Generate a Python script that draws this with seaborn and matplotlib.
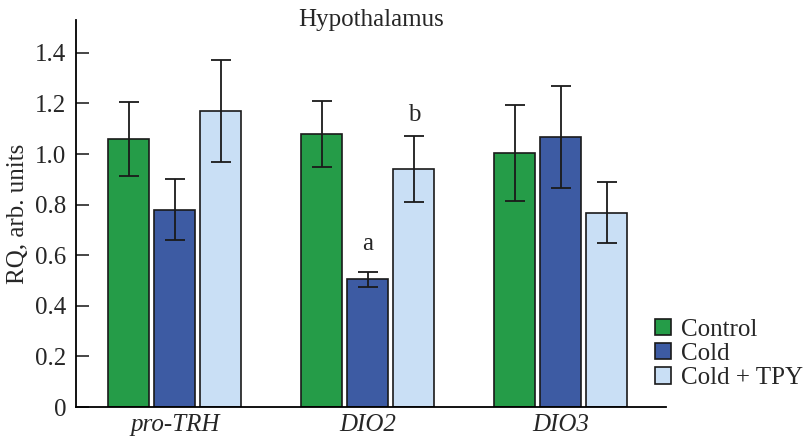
import matplotlib
matplotlib.use("Agg")
import matplotlib.pyplot as plt
import seaborn as sns
import pandas as pd
from matplotlib.patches import Patch

genes = ['pro-TRH', 'DIO2', 'DIO3']
groups = ['Control', 'Cold', 'Cold + TPY']
control_mean = [1.06, 1.08, 1.005]
control_err = [0.145, 0.13, 0.19]
cold_mean = [0.78, 0.505, 1.067]
cold_err = [0.12, 0.03, 0.20]
tpy_mean = [1.17, 0.94, 0.768]
tpy_err = [0.20, 0.13, 0.12]
colors = ['#259c48', '#3d5ba3', '#c9dff5']

means = [control_mean, cold_mean, tpy_mean]
errs = [control_err, cold_err, tpy_err]
rows = []
for g, m in zip(groups, means):
    for gene, v in zip(genes, m):
        rows.append({'gene': gene, 'group': g, 'value': v})
df = pd.DataFrame(rows)

sns.set_style("ticks")
plt.rcParams['font.family'] = ['Liberation Serif', 'DejaVu Serif']
plt.rcParams['font.size'] = 18

fig = plt.figure(figsize=(8.08, 4.42), dpi=100)
ax = fig.add_axes([0.094, 0.079, 0.73, 0.876])

sns.barplot(data=df, x='gene', y='value', hue='group', order=genes,
            hue_order=groups, palette=colors, width=0.715, gap=0.107,
            edgecolor='#1a1a1a', linewidth=1.2, saturation=1, errorbar=None,
            legend=False, ax=ax)

for cont, err in zip(ax.containers, errs):
    xs = [p.get_x() + p.get_width() / 2 for p in cont]
    hs = [p.get_height() for p in cont]
    ax.errorbar(xs, hs, yerr=err, fmt='none', ecolor='#1a1a1a',
                elinewidth=1.3, capsize=7, capthick=1.3)

# significance letters over DIO2
dio2_cold = ax.containers[1][1]
dio2_tpy = ax.containers[2][1]
ax.text(dio2_cold.get_x() + dio2_cold.get_width() / 2, 0.6, 'a',
        ha='center', va='bottom', fontsize=18)
ax.text(dio2_tpy.get_x() + dio2_tpy.get_width() / 2, 1.11, 'b',
        ha='center', va='bottom', fontsize=18)

ax.set_xlim(-0.513, 2.544)
ax.set_ylim(0, 1.53)
ax.set_yticks([0, 0.2, 0.4, 0.6, 0.8, 1.0, 1.2, 1.4])
ax.set_yticklabels(['0', '0.2', '0.4', '0.6', '0.8', '1.0', '1.2', '1.4'])
ax.tick_params(axis='y', direction='in', length=9, width=1.2, labelsize=18, pad=7)
ax.tick_params(axis='x', length=0, labelsize=18, pad=5)
for lbl in ax.get_xticklabels():
    lbl.set_fontstyle('italic')
ax.set_xlabel('')
ax.set_ylabel('RQ, arb. units', fontsize=18, labelpad=4)
sns.despine(ax=ax)
ax.spines['left'].set_linewidth(1.3)
ax.spines['bottom'].set_linewidth(1.3)
ax.spines['left'].set_color('black')
ax.spines['bottom'].set_color('black')

ax.text(0.5, 1.0, 'Hypothalamus', transform=ax.transAxes, ha='center',
        va='center', fontsize=18)

handles = [Patch(facecolor=c, edgecolor='#1a1a1a', linewidth=1.2) for c in colors]
fig.legend(handles, groups, loc='lower left', bbox_to_anchor=(0.811, 0.12),
           frameon=False, fontsize=18, handlelength=0.62, handleheight=0.65,
           handletextpad=0.4, labelspacing=0.08, borderpad=0,
           borderaxespad=0)

fig.savefig('out.png', dpi=100)
